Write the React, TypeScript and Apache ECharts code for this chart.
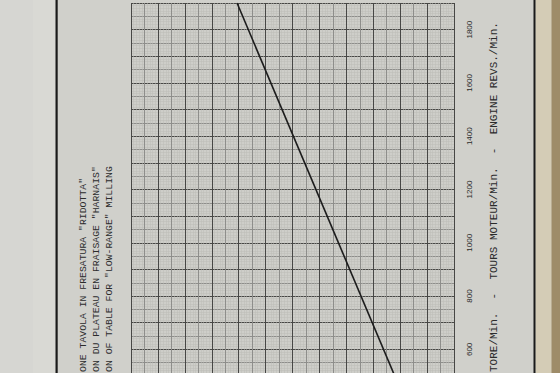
import React, { useEffect, useRef } from "react";
import * as echarts from "echarts";

// Engine revs (rpm) along the rotated axis, and the matching table-speed reading (grid units, 1 cm = 10)
const engineRevs = [500, 1900];
const tableSpeed = [22.0, 80.6];
const revLabels = [600, 800, 1000, 1200, 1400, 1600, 1800];

const titleLines = [
  'ONE TAVOLA IN FRESATURA "RIDOTTA"',
  'ON DU PLATEAU EN FRAISAGE "HARNAIS"',
  'ON OF TABLE FOR "LOW-RANGE" MILLING',
];
const axisTitle = "TORE/Min.  -  TOURS MOTEUR/Min.  -  ENGINE REVS./Min.";

const MONO = '"Liberation Mono", "DejaVu Sans Mono", monospace';

export default function App() {
  const ref = useRef<HTMLDivElement>(null);
  useEffect(() => {
    if (!ref.current) return;
    const chart = echarts.init(ref.current, undefined, { renderer: "svg" });
    const data = engineRevs.map((r, i) => [tableSpeed[i], r]);
    const titleX = [83, 96, 109];
    chart.setOption({
      animation: false,
      backgroundColor: "#d0d0cb",
      grid: {
        left: 131,
        right: 106,
        top: 0,
        bottom: 0,
        show: true,
        backgroundColor: "#cecec9",
        borderWidth: 0,
      },
      xAxis: {
        type: "value",
        inverse: true,
        min: 0,
        max: 120,
        interval: 5,
        axisLine: { show: false },
        axisTick: { show: false },
        axisLabel: { show: false },
        splitLine: {
          show: true,
          lineStyle: { color: ["#474745", "#8e8e8b"], width: 1 },
        },
        minorTick: { show: false, splitNumber: 5 },
        minorSplitLine: {
          show: true,
          lineStyle: { color: "#bcbcb7", width: 0.5 },
        },
      },
      yAxis: {
        type: "value",
        position: "right",
        min: 500,
        max: 1900,
        interval: 50,
        axisLine: { show: false },
        axisTick: { show: false },
        axisLabel: {
          show: true,
          rotate: 90,
          margin: 11,
          fontSize: 8,
          fontFamily: '"Liberation Sans", Arial, sans-serif',
          color: "#2a2a2a",
          formatter: (v: number) => (revLabels.indexOf(v) >= 0 ? String(v) : ""),
        },
        splitLine: {
          show: true,
          lineStyle: { color: ["#474745", "#8e8e8b"], width: 1 },
        },
        minorTick: { show: false, splitNumber: 5 },
        minorSplitLine: {
          show: true,
          lineStyle: { color: "#bcbcb7", width: 0.5 },
        },
      },
      series: [
        {
          type: "line",
          data,
          symbol: "none",
          lineStyle: { color: "#1c1c1c", width: 1.6 },
          z: 5,
        },
      ],
      graphic: [
        { type: "rect", shape: { x: 0, y: 0, width: 33, height: 400 }, style: { fill: "#d6d6d2" }, silent: true },
        { type: "rect", shape: { x: 33, y: 0, width: 23, height: 400 }, style: { fill: "#d9d9d4" }, silent: true },
        { type: "rect", shape: { x: 55.5, y: 0, width: 2.2, height: 400 }, style: { fill: "#1a1a1a" }, silent: true },
        { type: "rect", shape: { x: 533.5, y: 0, width: 2.2, height: 400 }, style: { fill: "#1a1a1a" }, silent: true },
        { type: "rect", shape: { x: 535.7, y: 0, width: 16, height: 400 }, style: { fill: "#d4ccb6" }, silent: true },
        { type: "rect", shape: { x: 551.5, y: 0, width: 9, height: 400 }, style: { fill: "#9e8c69" }, silent: true },
        ...titleLines.map((t, i) => ({
          type: "text",
          x: titleX[i],
          y: 372,
          rotation: Math.PI / 2,
          silent: true,
          style: {
            text: t,
            fontSize: 9.8,
            fontFamily: MONO,
            fill: "#2b2b2b",
            textAlign: "left",
            textVerticalAlign: "middle",
          },
        })),
        {
          type: "text",
          x: 494,
          y: 372,
          rotation: Math.PI / 2,
          silent: true,
          style: {
            text: axisTitle,
            fontSize: 11,
            fontFamily: MONO,
            fill: "#2b2b2b",
            textAlign: "left",
            textVerticalAlign: "middle",
          },
        },
      ],
    });
    return () => chart.dispose();
  }, []);
  return (
    <div style={{ position: "fixed", left: 0, top: 0, width: 560, height: 373, overflow: "hidden" }}>
      <div ref={ref} style={{ width: 560, height: 379 }} />
    </div>
  );
}
